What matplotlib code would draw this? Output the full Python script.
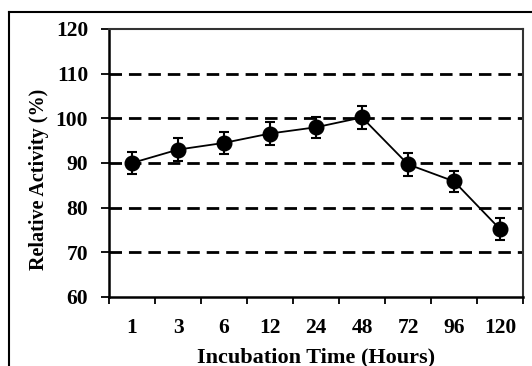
import matplotlib
matplotlib.use("Agg")
import matplotlib.pyplot as plt
from matplotlib.lines import Line2D
import numpy as np

plt.rcParams['font.family'] = ['Liberation Serif', 'DejaVu Serif']
plt.rcParams['font.weight'] = 'bold'

hours = ["1", "3", "6", "12", "24", "48", "72", "96", "120"]
activity = [90.0, 93.0, 94.5, 96.6, 98.0, 100.2, 89.7, 85.9, 75.2]
errors = [2.5, 2.5, 2.5, 2.5, 2.4, 2.5, 2.5, 2.4, 2.4]
yticks = [60, 70, 80, 90, 100, 110, 120]
grid_levels = [70, 80, 90, 100, 110]

fig = plt.figure(figsize=(5.32, 3.66), dpi=100)
ax = fig.add_axes([109/532, 1 - 297/366, 414/532, 268/366])

x = np.arange(1, len(hours) + 1)

for g in grid_levels:
    ax.axhline(g, color="black", lw=2, ls=(0, (4.5, 2.5)), zorder=1)

ax.errorbar(x, activity, yerr=errors, color="black", lw=1.3, marker="o",
            markersize=10.5, capsize=3.5, capthick=1.5, elinewidth=1.5, zorder=3)

ax.set_xlim(0.5, len(hours) + 0.5)
ax.set_ylim(60, 120)
ax.set_yticks(yticks)
ax.set_yticklabels([str(t) for t in yticks], fontsize=15.5, fontweight="bold")
ax.tick_params(axis="y", direction="out", length=6, width=1.3, pad=9)

ax.set_xticks(np.arange(0.5, len(hours) + 1, 1))
ax.set_xticklabels([])
ax.set_xticks(x, minor=True)
ax.set_xticklabels(hours, minor=True, fontsize=15.5, fontweight="bold")
ax.tick_params(axis="x", which="major", direction="out", length=5, width=1.3)
ax.tick_params(axis="x", which="minor", length=0, pad=15)

for side in ["left", "bottom"]:
    ax.spines[side].set_linewidth(1.8)
for side in ["top", "right"]:
    ax.spines[side].set_linewidth(1.5)
    ax.spines[side].set_color("#333333")

ax.set_ylabel("Relative Activity (%)", fontsize=14.5, fontweight="bold")
ax.yaxis.set_label_coords(-0.145, 0.44)
ax.set_xlabel("Incubation Time (Hours)", fontsize=16, fontweight="bold")
ax.xaxis.set_label_coords(0.50, -0.187)

# outer frame (partially cropped)
fig.add_artist(Line2D([9/532, 9/532], [0, 1 - 12/366], transform=fig.transFigure,
                      color="black", lw=1.5))
fig.add_artist(Line2D([9/532, 1], [1 - 12/366, 1 - 12/366], transform=fig.transFigure,
                      color="black", lw=1.5))

fig.savefig("out.png", dpi=100)
